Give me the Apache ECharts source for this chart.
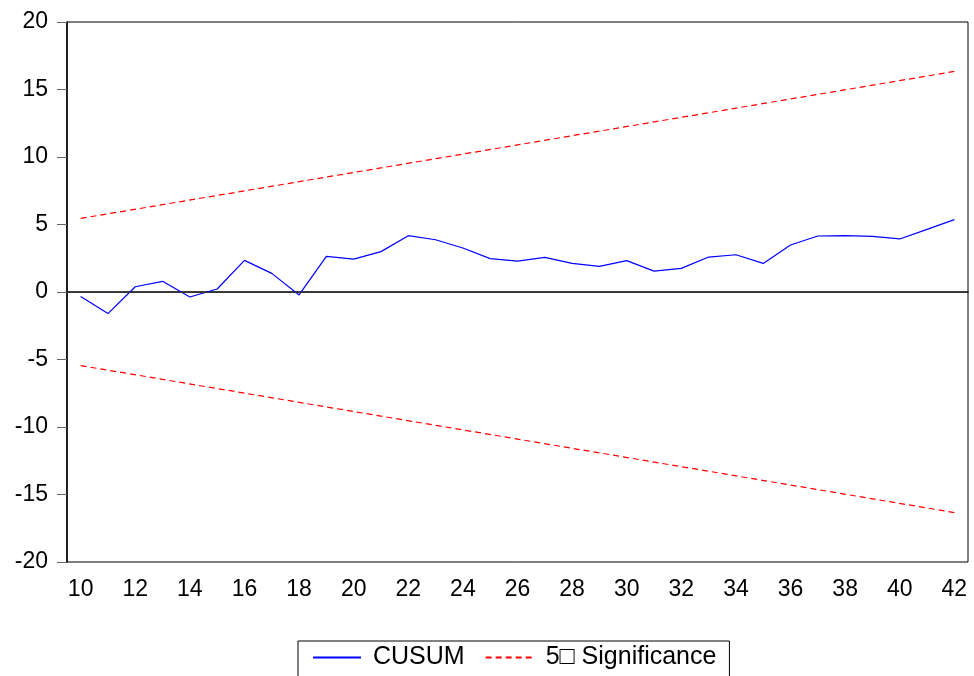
<!DOCTYPE html>
<html>
<head>
<meta charset="utf-8">
<script src="https://cdn.jsdelivr.net/npm/echarts@6/dist/echarts.min.js"></script>
<style>
  html, body { margin: 0; padding: 0; background: #fff; }
  #main { width: 974px; height: 676px; }
</style>
</head>
<body>
<div id="main"></div>
<script>
const periods = ['10','11','12','13','14','15','16','17','18','19','20','21','22','23','24','25',
  '26','27','28','29','30','31','32','33','34','35','36','37','38','39','40','41','42']

const cusum = [-0.33, -1.6, 0.39, 0.79, -0.37, 0.22, 2.34, 1.38, -0.22, 2.64, 2.44, 2.99,
  4.17, 3.87, 3.26, 2.47, 2.29, 2.56, 2.12, 1.90, 2.32, 1.55, 1.75, 2.59,
  2.76, 2.12, 3.48, 4.15, 4.17, 4.12, 3.93, 4.64, 5.36]

// bounds are straight lines, read at both ends only
const upperBound = [5.45].concat(new Array(31).fill(null), [16.34])
const lowerBound = [-5.45].concat(new Array(31).fill(null), [-16.34])

const chart = echarts.init(document.getElementById('main'))
const font = "'Liberation Sans', Arial, sans-serif"

const option = {
  animation: false,
  backgroundColor: '#fff',
  textStyle: { fontFamily: font },
  grid: {
    left: 67,
    right: 6,
    top: 22,
    bottom: 114,
    show: true,
    borderColor: '#000',
    borderWidth: 1
  },
  legend: {
    bottom: -32,
    left: 298,
    orient: 'horizontal',
    data: ['CUSUM', '5□ Significance'],
    itemWidth: 48,
    itemHeight: 14,
    itemGap: 20,
    padding: [4, 13, 38, 14],
    borderColor: '#000',
    borderWidth: 1,
    itemStyle: { opacity: 0 },
    textStyle: { fontSize: 25, color: '#000', fontFamily: font, padding: [0, 0, 0, 7] }
  },
  xAxis: {
    type: 'category',
    data: periods,
    boundaryGap: true,
    axisLine: { lineStyle: { color: '#000', width: 1.5 } },
    axisTick: { interval: 0, length: 10, lineStyle: { color: '#444' } },
    axisLabel: { interval: 1, fontSize: 23, color: '#000', margin: 16 },
    splitLine: { show: false }
  },
  yAxis: {
    type: 'value',
    min: -20,
    max: 20,
    interval: 5,
    axisLine: { show: true, lineStyle: { color: '#000', width: 1.5 } },
    axisTick: { show: true, length: 10, lineStyle: { color: '#666' } },
    axisLabel: { fontSize: 23, color: '#000', margin: 19 },
    splitLine: { show: false }
  },
  series: [
    {
      name: 'CUSUM',
      type: 'line',
      data: cusum,
      symbol: 'none',
      lineStyle: { color: '#0000ff', width: 1.2 },
      itemStyle: { color: '#0000ff' },
      markLine: {
        silent: true,
        symbol: 'none',
        label: { show: false },
        lineStyle: { color: '#333', width: 1, type: 'solid' },
        data: [{ yAxis: 0 }]
      }
    },
    {
      name: '5□ Significance',
      type: 'line',
      data: upperBound,
      connectNulls: true,
      symbol: 'none',
      lineStyle: { color: '#ff0000', width: 1.2, type: [6, 4] },
      itemStyle: { color: '#ff0000' }
    },
    {
      name: '5□ Significance',
      type: 'line',
      data: lowerBound,
      connectNulls: true,
      symbol: 'none',
      lineStyle: { color: '#ff0000', width: 1.2, type: [6, 4] },
      itemStyle: { color: '#ff0000' }
    }
  ]
}

chart.setOption(option)
</script>
</body>
</html>
